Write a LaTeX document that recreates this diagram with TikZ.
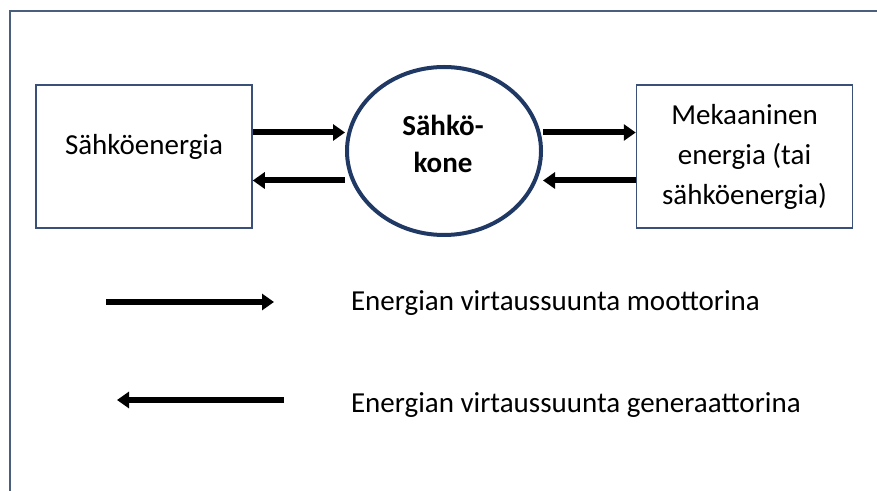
\documentclass[tikz,border=0pt]{standalone}
\usepackage{fontspec}
\setmainfont{Carlito}
\usetikzlibrary{arrows.meta,shapes.geometric}
\definecolor{framegray}{HTML}{4A5E80}
\definecolor{boxblue}{HTML}{3A5078}
\definecolor{navy}{HTML}{1F3864}

\begin{document}
\begin{tikzpicture}[
            x=0.5pt, y=-0.5pt,
            box/.style={draw=boxblue, line width=0.75pt, minimum width=108pt, minimum height=71.5pt, align=center, font=\fontsize{14.5}{20}\selectfont},
            machine/.style={ellipse, draw=navy, line width=2pt, minimum width=97pt, minimum height=84pt},
            konetext/.style={align=center, font=\bfseries\fontsize{14.5}{18.5}\selectfont},
            flow/.style={line width=3pt, -{Triangle[length=6pt,width=8pt]}},
            legend/.style={anchor=west, font=\fontsize{14.5}{18}\selectfont}
        ]
            \useasboundingbox (0,0) rectangle (877,491);
            \draw[framegray, line width=1pt] (10,491) -- (10,11) -- (877,11);

            \node[box, text depth=12pt] (elec) at (144,156.5) {Sähköenergia};
            \node[machine] (kone) at (444,151) {};
            \node[konetext] (konelabel) at (443,144) {Sähkö-\\kone};
            \node[box] (mech) at (744.5,156.5) {Mekaaninen\\energia (tai\\sähköenergia)};

            \draw[flow] ([yshift=12pt]elec.east) -- ([yshift=12pt]elec.east -| kone.west);
            \draw[flow] ([yshift=-12pt]elec.east -| kone.west) -- ([yshift=-12pt]elec.east);
            \draw[flow] ([yshift=12pt]mech.west -| kone.east) -- ([yshift=12pt]mech.west);
            \draw[flow] ([yshift=-12pt]mech.west) -- ([yshift=-12pt]mech.west -| kone.east);

            \node[legend] (motor) at (344,303) {Energian virtaussuunta moottorina};
            \node[legend] (gen) at (344,405) {Energian virtaussuunta generaattorina};
            \coordinate (m1) at (106,302);
            \coordinate (m2) at (274,302);
            \coordinate (g1) at (284,400);
            \coordinate (g2) at (117,400);
            \draw[flow] (m1) -- (m2);
            \draw[flow] (g1) -- (g2);
        \end{tikzpicture}
\end{document}
